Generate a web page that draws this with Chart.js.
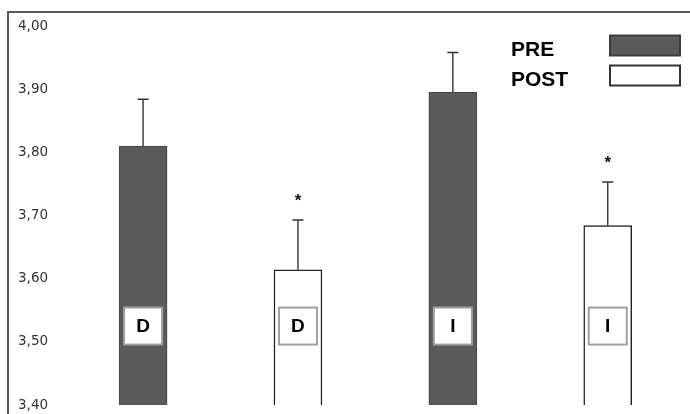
<!DOCTYPE html>
<html>
<head>
<meta charset="utf-8">
<script src="https://cdn.jsdelivr.net/npm/chart.js@4.4.1/dist/chart.umd.min.js"></script>
<style>
  html, body { margin: 0; padding: 0; background: #ffffff; overflow: hidden; }
  #wrap { position: relative; width: 690px; height: 414px; }
</style>
</head>
<body>
<div id="wrap"><canvas id="c"></canvas></div>
<script>
// ---- data ----
const groupLabels = ['D', 'I'];
const seriesLabels = ['PRE', 'POST'];
const preValues = [3.810, 3.895];
const postValues = [3.614, 3.684];
const preErrors = [0.074, 0.063];
const postErrors = [0.079, 0.069];
const preSignificance = ['', ''];
const postSignificance = ['*', '*'];
const yTickValues = [3.40, 3.50, 3.60, 3.70, 3.80, 3.90, 4.00];

// bars alternate PRE/POST per group along a numeric index axis
function seriesPoints(values, seriesIndex) {
  return values.map((v, g) => ({ x: g * seriesLabels.length + seriesIndex, y: v }));
}

const seriesStyles = [
  { fill: '#5a5a5a', border: '#454545', width: 1 },
  { fill: '#ffffff', border: '#222222', width: 1.5 }
];

const datasets = [
  {
    label: seriesLabels[0],
    data: seriesPoints(preValues, 0),
    errors: preErrors,
    sig: preSignificance,
    backgroundColor: seriesStyles[0].fill,
    borderColor: seriesStyles[0].border,
    borderWidth: seriesStyles[0].width
  },
  {
    label: seriesLabels[1],
    data: seriesPoints(postValues, 1),
    errors: postErrors,
    sig: postSignificance,
    backgroundColor: seriesStyles[1].fill,
    borderColor: seriesStyles[1].border,
    borderWidth: seriesStyles[1].width
  }
];

const decorations = {
  id: 'decorations',
  beforeDraw(chart) {
    const { ctx, chartArea } = chart;
    ctx.save();
    ctx.strokeStyle = '#5a5a5a';
    ctx.lineWidth = 2;
    ctx.beginPath();
    ctx.moveTo(chartArea.left, chartArea.bottom + 2);
    ctx.lineTo(chartArea.left, chartArea.top);
    ctx.lineTo(chart.width + 2, chartArea.top);
    ctx.stroke();
    ctx.restore();
  },
  afterDatasetsDraw(chart, args, opts) {
    const { ctx } = chart;
    const yScale = chart.scales.y;
    ctx.save();
    chart.data.datasets.forEach((ds, di) => {
      const meta = chart.getDatasetMeta(di);
      meta.data.forEach((el, i) => {
        const v = ds.data[i].y;
        const top = yScale.getPixelForValue(v + ds.errors[i]);
        // error bar
        ctx.strokeStyle = '#333333';
        ctx.lineWidth = 1.4;
        ctx.beginPath();
        ctx.moveTo(el.x, el.y);
        ctx.lineTo(el.x, top);
        ctx.moveTo(el.x - 5.5, top);
        ctx.lineTo(el.x + 5.5, top);
        ctx.stroke();
        // significance
        if (ds.sig[i]) {
          ctx.fillStyle = '#111111';
          ctx.font = 'bold 17px "Liberation Sans", Arial, sans-serif';
          ctx.textAlign = 'center';
          ctx.textBaseline = 'middle';
          ctx.fillText(ds.sig[i], el.x, top - 19);
        }
        // group label box
        const cy = yScale.getPixelForValue(opts.labelAnchor);
        const w = 38, h = 37;
        ctx.fillStyle = '#ffffff';
        ctx.fillRect(el.x - w / 2, cy - h / 2, w, h);
        ctx.strokeStyle = '#a0a0a0';
        ctx.lineWidth = 2;
        ctx.strokeRect(el.x - w / 2, cy - h / 2, w, h);
        ctx.fillStyle = '#000000';
        ctx.font = 'bold 19px "Liberation Sans", Arial, sans-serif';
        ctx.textAlign = 'center';
        ctx.textBaseline = 'middle';
        ctx.fillText(groupLabels[Math.floor(ds.data[i].x / seriesLabels.length)], el.x, cy + 1);
      });
    });
    // legend (text left, swatch right)
    chart.data.datasets.forEach((ds, di) => {
      const base = opts.legendTop + di * opts.legendStep;
      ctx.fillStyle = '#000000';
      ctx.font = 'bold 21px "Liberation Sans", Arial, sans-serif';
      ctx.textAlign = 'left';
      ctx.textBaseline = 'alphabetic';
      ctx.fillText(ds.label, opts.legendTextX, base + 20);
      ctx.fillStyle = ds.backgroundColor;
      ctx.fillRect(opts.legendBoxX, base, 70, 20);
      ctx.strokeStyle = di === 0 ? '#3c3c3c' : '#333333';
      ctx.lineWidth = 2;
      ctx.strokeRect(opts.legendBoxX, base, 70, 20);
    });
    ctx.restore();
  }
};

new Chart(document.getElementById('c'), {
  type: 'bar',
  data: { datasets },
  plugins: [decorations],
  options: {
    responsive: true,
    maintainAspectRatio: false,
    animation: false,
    grouped: false,
    barThickness: 48,
    base: 3.4,
    layout: { padding: { left: 8, top: 12, right: 0, bottom: 0 } },
    plugins: {
      legend: { display: false },
      tooltip: { enabled: false },
      decorations: { labelAnchor: 3.525, legendTop: 35.5, legendStep: 30, legendTextX: 511, legendBoxX: 610 }
    },
    scales: {
      x: {
        type: 'linear',
        display: false,
        offset: false,
        min: -0.872,
        max: 3.531
      },
      y: {
        type: 'linear',
        min: 3.3858,
        max: 4.0222,
        grid: { display: false, drawTicks: false },
        border: { display: false },
        afterBuildTicks(scale) {
          scale.ticks = yTickValues.map(v => ({ value: v }));
        },
        afterFit(scale) {
          scale.width = 0;
          scale.paddingTop = 0;
          scale.paddingBottom = 0;
        },
        ticks: {
          mirror: true,
          padding: 10,
          color: '#333333',
          font: { family: '"DejaVu Sans", Verdana, sans-serif', size: 13.5 },
          callback: (v) => Number(v).toFixed(2).replace('.', ',')
        }
      }
    }
  }
});
</script>
</body>
</html>
